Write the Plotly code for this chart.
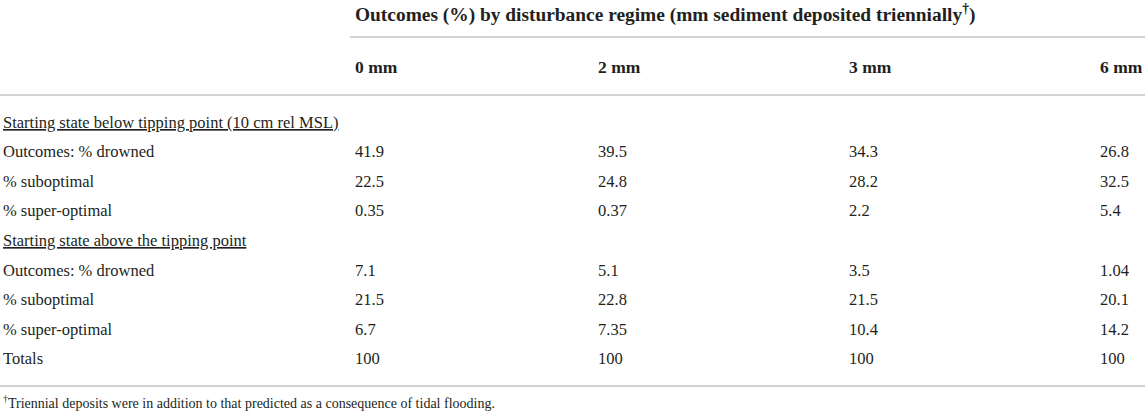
import plotly.graph_objects as go

# table content
title = 'Outcomes (%) by disturbance regime (mm sediment deposited triennially<sup>†</sup>)'
columns = ['0 mm', '2 mm', '3 mm', '6 mm']
row_labels = [
    '<u>Starting state below tipping point (10 cm rel MSL)</u>',
    'Outcomes: % drowned',
    '% suboptimal',
    '% super-optimal',
    '<u>Starting state above the tipping point</u>',
    'Outcomes: % drowned',
    '% suboptimal',
    '% super-optimal',
    'Totals',
]
below_drowned = [41.9, 39.5, 34.3, 26.8]
below_suboptimal = [22.5, 24.8, 28.2, 32.5]
below_superoptimal = [0.35, 0.37, 2.2, 5.4]
above_drowned = [7.1, 5.1, 3.5, 1.04]
above_suboptimal = [21.5, 22.8, 21.5, 20.1]
above_superoptimal = [6.7, 7.35, 10.4, 14.2]
totals = [100, 100, 100, 100]
footnote = '<sup>†</sup>Triennial deposits were in addition to that predicted as a consequence of tidal flooding.'

rows = [None, below_drowned, below_suboptimal, below_superoptimal,
        None, above_drowned, above_suboptimal, above_superoptimal, totals]

W, H = 1145, 411
label_x = 2
col_x = [354, 597, 848, 1099]
title_y = 13
header_y = 67
first_row_y = 122
row_step = 29.6
footnote_y = 402
text_color = '#231f20'
rule_color = '#c4c4c4'
serif = 'Liberation Serif'

fig = go.Figure()
# invisible trace so the axes exist
fig.add_trace(go.Scatter(x=[0, W], y=[0, H], mode='markers',
                         marker=dict(opacity=0), hoverinfo='skip', showlegend=False))

ann = []
ann.append(dict(x=col_x[0], y=title_y, text='<b>' + title + '</b>', size=19.4))
for j, c in enumerate(columns):
    ann.append(dict(x=col_x[j], y=header_y, text='<b>' + c + '</b>', size=17.5))

for i, label in enumerate(row_labels):
    y = first_row_y + i * row_step
    ann.append(dict(x=label_x, y=y, text=label, size=16.5))
    vals = rows[i]
    if vals is None:
        continue
    for j, v in enumerate(vals):
        ann.append(dict(x=col_x[j], y=y, text=f'{v:g}', size=16.5))

ann.append(dict(x=label_x, y=footnote_y, text=footnote, size=14))

fig.update_layout(annotations=[
    dict(x=a['x'], y=a['y'], xref='x', yref='y', text=a['text'],
         xanchor='left', yanchor='middle', showarrow=False, borderpad=0,
         font=dict(family=serif, size=a['size'], color=text_color))
    for a in ann
])

rules = [(col_x[0] - 4, W, 37), (0, W, 95), (0, W, 386)]
fig.update_layout(shapes=[
    dict(type='line', xref='x', yref='y', x0=x0, x1=x1, y0=y, y1=y,
         line=dict(color=rule_color, width=1.5))
    for x0, x1, y in rules
])

fig.update_xaxes(range=[0, W], visible=False, fixedrange=True)
fig.update_yaxes(range=[H, 0], visible=False, fixedrange=True)
fig.update_layout(
    width=W, height=H,
    margin=dict(l=0, r=0, t=0, b=0),
    plot_bgcolor='white', paper_bgcolor='white',
    showlegend=False,
)

fig.write_html('out.html', config={'displayModeBar': False},
               post_script="document.body.style.margin='0';")
